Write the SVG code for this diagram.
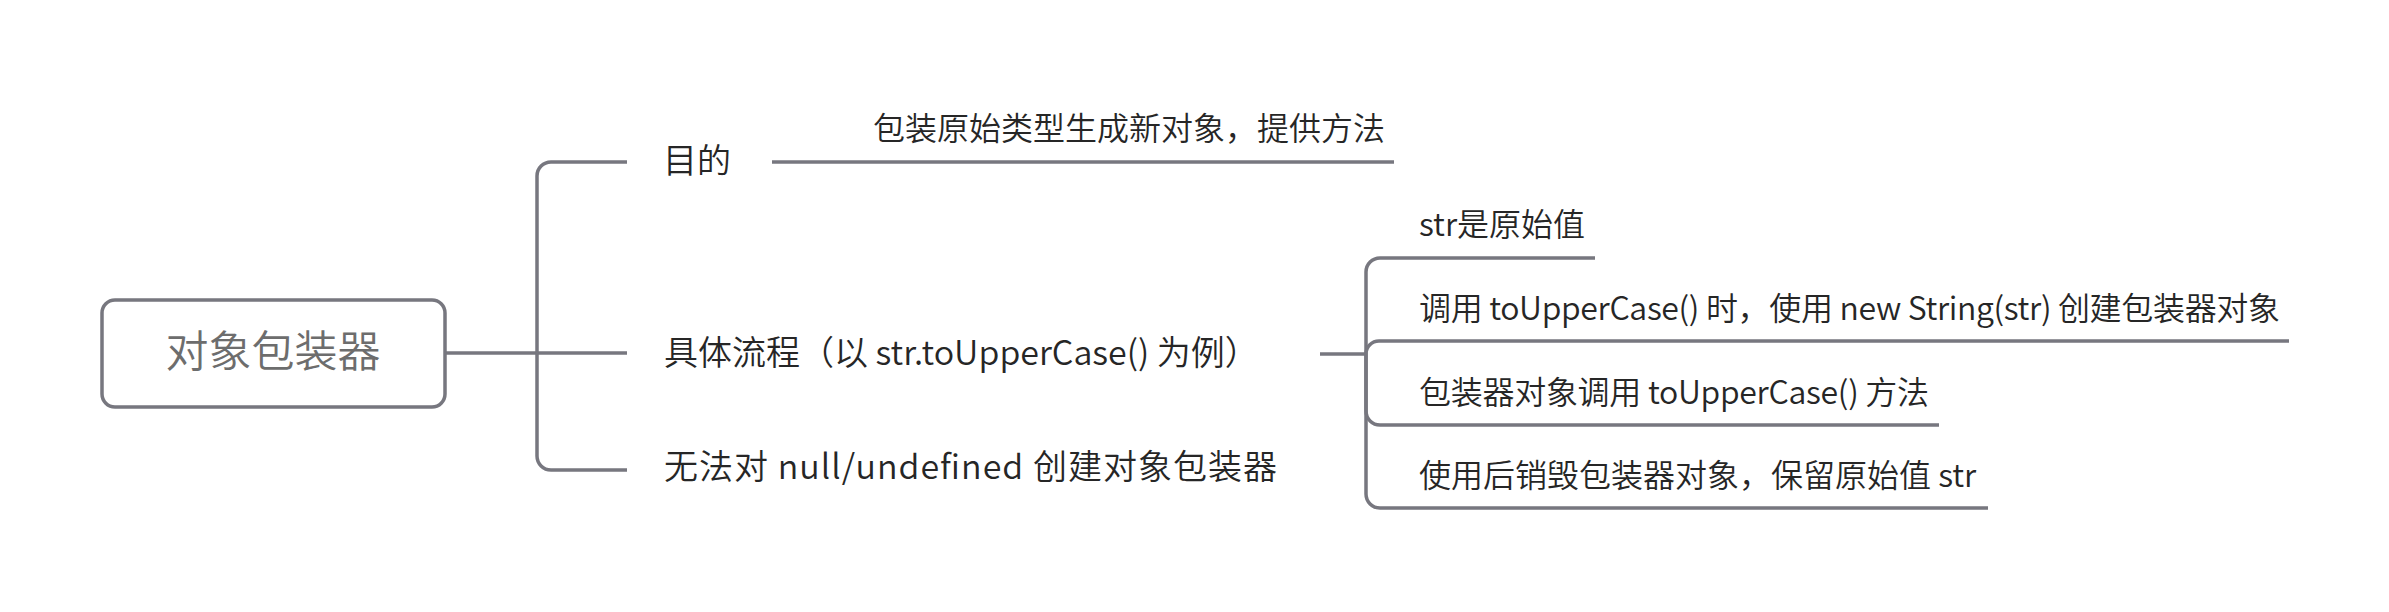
<svg xmlns="http://www.w3.org/2000/svg" width="2389" height="612" viewBox="0 0 2389 612">
<style>
.ln{fill:none;stroke:#77777f;stroke-width:3.5;stroke-linecap:butt}
.t{font-family:"Noto Sans CJK SC","Microsoft YaHei",sans-serif;fill:#262626;font-weight:350}
.m{font-size:34px}
.s{font-size:32px}
.r{font-size:43px;fill:#6d6d6d}
</style>
<rect width="2389" height="612" fill="#ffffff"/>
<g id="connectors">
<line class="ln" x1="445" y1="353" x2="627" y2="353"/>
<path class="ln" d="M537,353 V176 A14,14 0 0 1 551,162 H627"/>
<path class="ln" d="M537,353 V456 A14,14 0 0 0 551,470 H627"/>
<line class="ln" x1="772" y1="162" x2="1394" y2="162"/>
<line class="ln" x1="1320" y1="354" x2="1366" y2="354"/>
<path class="ln" d="M1366,354 V272 A14,14 0 0 1 1380,258 H1595"/>
<path class="ln" d="M1366,354 A13,13 0 0 1 1379,341 H2289"/>
<path class="ln" d="M1366,354 V411 A14,14 0 0 0 1380,425 H1939"/>
<path class="ln" d="M1366,354 V494 A14,14 0 0 0 1380,508 H1988"/>
</g>
<g id="root">
<rect x="102" y="300" width="343" height="107" rx="13" fill="#ffffff" stroke="#77777f" stroke-width="3.5"/>
<text class="t r" x="273" y="367" text-anchor="middle">对象包装器</text>
</g>
<g id="purpose">
<text class="t m" x="663" y="173">目的</text>
</g>
<g id="purpose-detail">
<text class="t s" x="873" y="140">包装原始类型生成新对象，提供方法</text>
</g>
<g id="process">
<text class="t m" x="664" y="365">具体流程（以 str.toUpperCase() 为例）</text>
</g>
<g id="no-null">
<text class="t m" x="664" y="479" textLength="613" lengthAdjust="spacing">无法对 null/undefined 创建对象包装器</text>
</g>
<g id="step1">
<text class="t s" x="1419" y="236">str是原始值</text>
</g>
<g id="step2">
<text class="t s" x="1419" y="320" textLength="861" lengthAdjust="spacing">调用 toUpperCase() 时，使用 new String(str) 创建包装器对象</text>
</g>
<g id="step3">
<text class="t s" x="1419" y="404" textLength="510" lengthAdjust="spacing">包装器对象调用 toUpperCase() 方法</text>
</g>
<g id="step4">
<text class="t s" x="1419" y="487">使用后销毁包装器对象，保留原始值 str</text>
</g>
</svg>
